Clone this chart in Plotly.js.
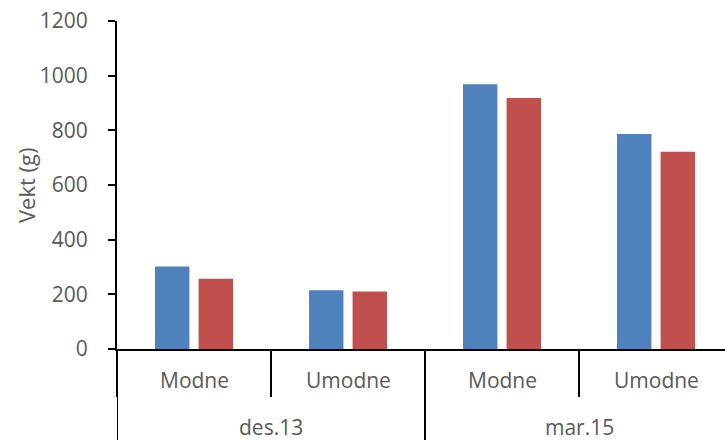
<!DOCTYPE html>
<html>
<head>
<meta charset="utf-8">
<script src="https://cdn.plot.ly/plotly-3.0.1.min.js"></script>
<style>html,body{margin:0;padding:0;background:#fff;}#chart{width:725px;height:440px;}</style>
</head>
<body>
<div id="chart"></div>
<script>
const periods = ["des.13", "des.13", "mar.15", "mar.15"];
const groups = ["Modne", "Umodne", "Modne", "Umodne"];
const seriesA = [302, 215, 969, 787];
const seriesB = [257, 210, 918, 722];
const yTicks = [0, 200, 400, 600, 800, 1000, 1200];

const fontFam = "'Open Sans', 'Liberation Sans', sans-serif";
const grey = "#595959";
const plotH = 440 - 21 - 91;
const plotW = 725 - 117;
const px = v => v / plotH;

const xIdx = groups.map((g, i) => i);

const traces = [
  {type: "bar", name: "A", x: xIdx, y: seriesA, marker: {color: "#4F81BD"}},
  {type: "bar", name: "B", x: xIdx, y: seriesB, marker: {color: "#C0504D"}}
];

// boundaries between inner categories
const bounds = [];
for (let i = 0; i <= groups.length; i++) bounds.push(i - 0.5);

const annotations = [];
groups.forEach((g, i) => {
  annotations.push({xref: "x", yref: "paper", x: i, y: -px(30.5), text: g, showarrow: false,
    xanchor: "center", yanchor: "middle", font: {family: fontFam, size: 21, color: grey}});
});
// outer group labels and dividers
const shapes = [];
const uniq = [...new Set(periods)];
uniq.forEach(p => {
  const idx = periods.map((q, i) => q === p ? i : -1).filter(i => i >= 0);
  const lo = Math.min(...idx) - 0.5, hi = Math.max(...idx) + 0.5;
  annotations.push({xref: "x", yref: "paper", x: (lo + hi) / 2, y: -px(78), text: p, showarrow: false,
    xanchor: "center", yanchor: "middle", font: {family: fontFam, size: 21, color: grey}});
  [lo, hi].forEach(b => shapes.push({type: "line", xref: "x", yref: "paper", x0: b, x1: b, y0: 0, y1: -px(95),
    line: {color: "#000", width: 2}}));
});
annotations.push({xref: "paper", yref: "paper", x: -(117 - 26) / plotW, y: 0.5, text: "Vekt (g)", textangle: -90,
  showarrow: false, xanchor: "center", yanchor: "middle", font: {family: fontFam, size: 22, color: grey}});

const layout = {
  width: 725, height: 440,
  margin: {l: 117, r: 0, t: 21, b: 91, pad: 0},
  paper_bgcolor: "#fff", plot_bgcolor: "#fff",
  showlegend: false,
  barmode: "group", bargap: 0.434, bargroupgap: 0.21,
  font: {family: fontFam, size: 21, color: grey},
  xaxis: {
    range: [-0.5, 3.448],
    tickmode: "array", tickvals: bounds, ticktext: bounds.map(() => ""),
    showline: true, linecolor: "#000", linewidth: 2,
    ticks: "outside", ticklen: 46, tickcolor: "#000", tickwidth: 2,
    showgrid: false, zeroline: false, fixedrange: true
  },
  yaxis: {
    range: [0, 1200], tickvals: yTicks,
    showline: true, linecolor: "#000", linewidth: 2,
    ticks: "outside", ticklen: 7, tickcolor: "#000", tickwidth: 2,
    ticklabelstandoff: 16,
    tickfont: {family: fontFam, size: 21, color: grey},
    showgrid: false, zeroline: false, fixedrange: true
  },
  annotations: annotations,
  shapes: shapes
};

Plotly.newPlot("chart", traces, layout, {staticPlot: true, displayModeBar: false});
</script>
</body>
</html>
